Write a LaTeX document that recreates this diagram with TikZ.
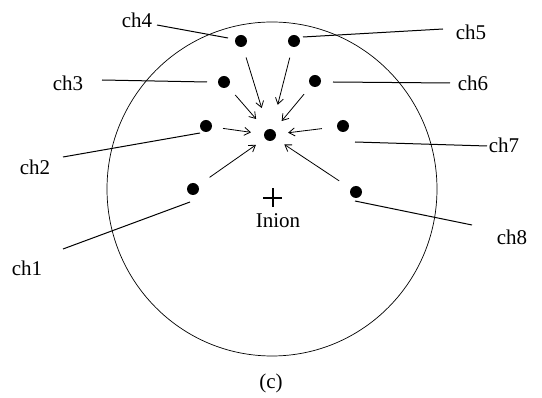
\documentclass[tikz,border=0pt]{standalone}
\usepackage{fontspec}
\setmainfont{Liberation Serif}
\usetikzlibrary{arrows.meta}
\begin{document}
\begin{tikzpicture}[x=1pt,y=-1pt,
 lbl/.style={font=\fontsize{21}{25}\selectfont, inner sep=0pt},
 elec/.style={circle, fill=black, inner sep=0pt, minimum size=12pt},
 lead/.style={line width=1pt},
 flow/.style={line width=0.8pt, -{Straight Barb[length=6pt,width=8pt]}, shorten <=11pt, shorten >=12pt}]
\useasboundingbox (0,0) rectangle (542,398);
% head outline
\draw[line width=0.7pt] (272,189) ellipse [x radius=165, y radius=167];
% electrodes
\node[elec] (e4) at (241,41) {};
\node[elec] (e5) at (294,41) {};
\node[elec] (e3) at (224,82) {};
\node[elec] (e6) at (315,81) {};
\node[elec] (e2) at (206,126) {};
\node[elec] (e7) at (343,126) {};
\node[elec] (c) at (270,135) {};
\node[elec] (e1) at (193,189) {};
\node[elec] (e8) at (356,192) {};
% inion
\coordinate (cross) at (273,198);
\draw[line width=1.4pt] ([yshift=-9pt]cross) -- ([yshift=10pt]cross);
\draw[line width=1.4pt] ([xshift=-10pt]cross) -- ([xshift=9pt]cross);
\node[lbl] (inion) at (278,221) {Inion};
% arrows to centre
\draw[flow, shorten >=22pt] (e4) -- (c);
\draw[flow, shorten >=25pt] (e5) -- (c);
\draw[flow, shorten >=15pt] (e3) -- (c);
\draw[flow] (e6) -- (c);
\draw[flow, shorten >=13pt] (e2) -- (c);
\draw[flow, shorten <=15pt] (e7) -- (c);
\draw[flow, shorten <=14pt, shorten >=11pt] (e1) -- (c);
\draw[flow, shorten <=14pt, shorten >=11pt] (e8) -- (c);
% labels
\node[lbl] (l4) at (137,20) {ch4};
\node[lbl] (l5) at (471,32) {ch5};
\node[lbl] (l3) at (68,83) {ch3};
\node[lbl] (l6) at (473,83) {ch6};
\node[lbl] (l2) at (35,167) {ch2};
\node[lbl] (l7) at (504,145) {ch7};
\node[lbl] (l1) at (27,268) {ch1};
\node[lbl] (l8) at (512,237) {ch8};
\node[lbl] (lc) at (271,383) {(c)};
% leader lines
\coordinate (a4) at (157,25);  \coordinate (b4) at (228,38);
\coordinate (a5) at (443,29);  \coordinate (b5) at (303,37);
\coordinate (a3) at (102,80);  \coordinate (b3) at (207,82);
\coordinate (a6) at (450,83);  \coordinate (b6) at (333,82);
\coordinate (a2) at (63,157);  \coordinate (b2) at (200,133);
\coordinate (a7) at (487,146); \coordinate (b7) at (355,142);
\coordinate (a1) at (63,249);  \coordinate (b1) at (190,202);
\coordinate (a8) at (472,225); \coordinate (b8) at (355,201);
\foreach \i in {1,...,8} {\draw[lead] (a\i) -- (b\i);}
\end{tikzpicture}
\end{document}
